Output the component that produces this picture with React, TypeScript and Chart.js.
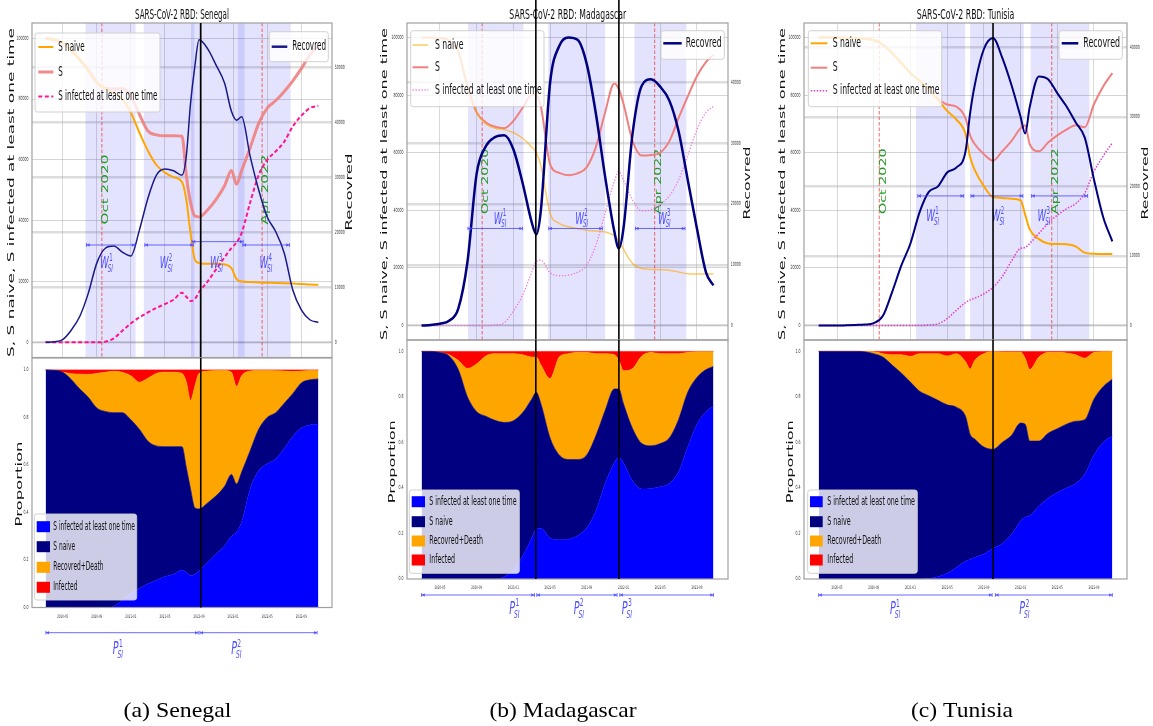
import React, { useEffect, useRef } from "react";
import { Chart, registerables } from "chart.js";
Chart.register(...registerables);

const W = 1153;
const H = 726;
const FONT = '"DejaVu Sans", "Noto Sans", sans-serif';
const SERIF = '"Liberation Serif", "DejaVu Serif", serif';
const SQ = 0.55;

// ---------------- shared axis / label data ----------------
const X_TICKS = [4, 8, 12, 16, 20, 24, 28, 32]; // months since 2020-01
const X_TICK_LABELS = ["2020-05", "2020-09", "2021-01", "2021-05", "2021-09", "2022-01", "2022-05", "2022-09"];
const LEFT_TICKS = [0, 20000, 40000, 60000, 80000, 100000];
const PROP_TICKS = [0, 0.2, 0.4, 0.6, 0.8, 1.0];
const PROP_TICK_LABELS = ["0.0", "0.2", "0.4", "0.6", "0.8", "1.0"];
const MARK_DATES = [8.6, 27.4];
const MARK_LABELS = ["Oct 2020", "Apr 2022"];
const TOP_LEGEND = ["S naive", "S", "S infected at least one time"];
const REC_LABEL = "Recovred";
const AREA_LEGEND = ["S infected at least one time", "S naive", "Recovred+Death", "Infected"];

// ---------------- Senegal ----------------
const SEN_X = [2, 3, 4, 5, 6, 7, 8, 9, 10, 11, 12, 13, 14, 15, 16, 17, 18, 18.5, 19, 19.5, 20, 21, 22, 23, 23.8, 24.4, 25, 26, 27, 28, 29, 30, 31, 32, 33, 34];
const SEN_S_NAIVE = [100000, 99500, 98500, 96000, 93000, 89500, 85500, 83500, 82000, 80000, 75500, 69000, 63000, 58300, 55800, 54300, 52700, 47000, 36000, 27200, 26100, 25800, 25800, 25600, 24400, 20800, 20000, 19800, 19700, 19600, 19500, 19400, 19300, 19200, 19000, 18900];
const SEN_S = [100000, 99500, 98500, 96000, 93000, 89500, 85500, 83500, 83300, 83500, 81000, 75000, 69500, 68200, 67900, 67900, 67800, 55000, 46000, 41500, 41200, 43500, 47000, 51500, 56500, 52000, 56500, 64000, 72000, 77000, 79500, 82500, 86000, 90000, 94500, 97600];
const SEN_S_INF = [0, 0, 0, 0, 0, 0, 0, 200, 1300, 3800, 6200, 8200, 9800, 11300, 12600, 14000, 16300, 15000, 13600, 14200, 16500, 20000, 24000, 28000, 31000, 32800, 36000, 46000, 55000, 60000, 62800, 66000, 71000, 74500, 77000, 77800];
const SEN_REC = [0, 100, 500, 2200, 4700, 8900, 14400, 17100, 17500, 16400, 15700, 20400, 26200, 30400, 31500, 31200, 30400, 33800, 43400, 50100, 55000, 53400, 50400, 47100, 42000, 40400, 41000, 33800, 27700, 22800, 20100, 16200, 9500, 5900, 4100, 3600];
const SEN_BLUE = [0, 0, 0, 0, 0, 0, 0, 0, 0.005, 0.03, 0.06, 0.08, 0.1, 0.115, 0.13, 0.14, 0.158, 0.148, 0.135, 0.14, 0.155, 0.19, 0.225, 0.26, 0.3, 0.318, 0.36, 0.5, 0.575, 0.605, 0.625, 0.67, 0.72, 0.755, 0.768, 0.772];
const SEN_NAVY = [1.0, 0.998, 0.99, 0.96, 0.92, 0.885, 0.84, 0.825, 0.82, 0.82, 0.79, 0.75, 0.7, 0.68, 0.677, 0.677, 0.677, 0.59, 0.5, 0.42, 0.415, 0.44, 0.47, 0.51, 0.56, 0.52, 0.57, 0.66, 0.75, 0.8, 0.82, 0.86, 0.9, 0.945, 0.958, 0.962];
const SEN_ORANGE = [1.0, 0.995, 0.99, 0.984, 0.982, 0.981, 0.985, 0.99, 0.994, 0.99, 0.975, 0.948, 0.965, 0.985, 0.99, 0.99, 0.985, 0.95, 0.87, 0.93, 0.985, 0.995, 0.997, 0.997, 0.99, 0.93, 0.975, 0.995, 0.997, 0.997, 0.996, 0.995, 0.993, 0.995, 0.997, 0.997];
const SEN_RED = [1, 1, 1, 1, 1, 1, 1, 1, 1, 1, 1, 1, 1, 1, 1, 1, 1, 1, 1, 1, 1, 1, 1, 1, 1, 1, 1, 1, 1, 1, 1, 1, 1, 1, 1, 1];
const SEN_RIGHT_TICKS = [0, 10000, 20000, 30000, 40000, 50000];
const SEN_REC_MAX = 55300;
const SEN_SPANS = [[6.67, 12.56], [13.52, 19.45], [19.06, 25.33], [24.56, 30.75]];
const SEN_W_ARROWS = [[6.79, 12.48, 32000], [13.64, 19.33, 32000], [19.18, 25.17, 33100], [25.14, 30.6, 32000]];
const SEN_W_LABELS = [[9.2, 26200], [16.2, 26200], [22.1, 26200], [27.9, 26200]];
const SEN_BLACK = [20.2];
const SEN_P_ARROWS = [[2.03, 19.9], [20.1, 33.85]];
const SEN_P_LABELS = [10.54, 24.44];

// ---------------- Madagascar ----------------
const MAD_X = [2, 3, 4, 5, 6, 7, 8, 9, 10, 11, 12, 13, 14, 14.5, 15, 16, 17, 18, 19, 20, 21, 22, 23, 23.5, 24, 25, 26, 27, 28, 29, 30, 31, 32, 33, 33.8];
const MAD_S_NAIVE = [100000, 100000, 99800, 99000, 95000, 83000, 74000, 70000, 68500, 68000, 67000, 65000, 62000, 60000, 55500, 39000, 35500, 34300, 33600, 33100, 32800, 32500, 31200, 29500, 26500, 21500, 19800, 19500, 19400, 19200, 18600, 18000, 17900, 17900, 17900];
const MAD_S = [100000, 100000, 99800, 99000, 95000, 83000, 74000, 70500, 69000, 68500, 71000, 75500, 80000, 80000, 76000, 56000, 53000, 52200, 52800, 55000, 62000, 74000, 84000, 82000, 77000, 64000, 59000, 59200, 60000, 64000, 72000, 79500, 86500, 91500, 94000];
const MAD_S_INF = [0, 0, 0, 0, 0, 0, 0, 0, 200, 1000, 5000, 10500, 18500, 22300, 22700, 18400, 17300, 17500, 18500, 21000, 28000, 39000, 50000, 53500, 50500, 43500, 39800, 40200, 42000, 45000, 50500, 59000, 68000, 74000, 76100];
const MAD_REC = [0, 100, 300, 800, 2800, 10500, 25000, 29500, 31000, 31300, 29000, 23500, 17000, 15000, 19000, 39900, 46000, 47400, 47000, 43000, 34800, 24500, 15500, 12700, 16000, 31700, 39500, 40500, 39300, 37000, 32000, 24000, 16000, 8700, 6600];
const MAD_BLUE = [0, 0, 0, 0, 0, 0, 0, 0, 0, 0.01, 0.04, 0.1, 0.18, 0.22, 0.222, 0.18, 0.172, 0.175, 0.19, 0.225, 0.3, 0.42, 0.51, 0.535, 0.51, 0.43, 0.395, 0.398, 0.405, 0.42, 0.47, 0.58, 0.68, 0.735, 0.76];
const MAD_NAVY = [1.0, 1.0, 0.995, 0.98, 0.92, 0.8, 0.735, 0.715, 0.697, 0.688, 0.695, 0.73, 0.79, 0.82, 0.77, 0.62, 0.545, 0.525, 0.525, 0.545, 0.63, 0.74, 0.835, 0.835, 0.77, 0.66, 0.595, 0.585, 0.595, 0.62, 0.7, 0.82, 0.885, 0.92, 0.934];
const MAD_ORANGE = [1.0, 0.998, 0.995, 0.985, 0.96, 0.925, 0.945, 0.98, 0.99, 0.99, 0.99, 0.985, 0.975, 0.975, 0.94, 0.88, 0.975, 0.99, 0.995, 0.995, 0.99, 0.99, 0.985, 0.96, 0.915, 0.925, 0.98, 0.995, 0.99, 0.99, 0.99, 0.995, 0.998, 0.998, 0.998];
const MAD_RED = [1, 1, 1, 1, 1, 1, 1, 1, 1, 1, 1, 1, 1, 1, 1, 1, 1, 1, 1, 1, 1, 1, 1, 1, 1, 1, 1, 1, 1, 1, 1, 1, 1, 1, 1];
const MAD_RIGHT_TICKS = [0, 10000, 20000, 30000, 40000];
const MAD_REC_MAX = 47400;
const MAD_SPANS = [[7.06, 13.1], [15.8, 22.0], [25.2, 30.85]];
const MAD_W_ARROWS = [[7.05, 13.0, 33700], [15.85, 21.7, 33700], [25.3, 30.7, 33700]];
const MAD_W_LABELS = [[10.6, 37400], [19.5, 37400], [28.5, 37400]];
const MAD_BLACK = [14.45, 23.5];
const MAD_P_ARROWS = [[2.0, 14.3], [14.55, 23.3], [23.6, 33.8]];
const MAD_P_LABELS = [12.18, 19.19, 24.43];

// ---------------- Tunisia ----------------
const TUN_X = [2, 3, 4, 5, 6, 7, 8, 9, 10, 11, 12, 13, 14, 15, 16, 17, 18, 18.5, 19, 20, 21, 22, 23, 24, 24.5, 25, 26, 27, 28, 29, 30, 31, 32, 33, 34];
const TUN_S_NAIVE = [100000, 100000, 100000, 99900, 99700, 99500, 99000, 97500, 94500, 91200, 87600, 85000, 82000, 78300, 74500, 71500, 66500, 58500, 54000, 48400, 44600, 44300, 44000, 43500, 38500, 33400, 30000, 28500, 28300, 28200, 27500, 25300, 24900, 24800, 24800];
const TUN_S = [100000, 100000, 100000, 99900, 99700, 99500, 99000, 97500, 94500, 91200, 87600, 85000, 82000, 78800, 76700, 76000, 72000, 66000, 63000, 59500, 57200, 60500, 64000, 68500, 69500, 63000, 60500, 63500, 66000, 68000, 69500, 68800, 76800, 83000, 87600];
const TUN_S_INF = [0, 0, 0, 0, 0, 0, 0, 0, 0, 0, 0, 0, 200, 600, 2400, 5300, 8000, 8900, 9500, 11000, 13300, 17000, 22300, 26800, 27100, 28500, 32000, 35500, 38300, 40500, 42300, 46000, 53500, 58800, 63400];
const TUN_REC = [0, 0, 0, 50, 100, 150, 350, 1400, 4800, 8600, 11800, 16300, 19200, 20000, 22000, 22700, 25000, 30500, 34500, 39700, 41300, 38500, 34600, 30000, 27600, 31400, 35800, 35400, 33400, 31500, 29200, 27000, 21000, 15600, 12100];
const TUN_BLUE = [0, 0, 0, 0, 0, 0, 0, 0, 0, 0, 0, 0, 0.002, 0.01, 0.025, 0.051, 0.078, 0.086, 0.095, 0.11, 0.135, 0.155, 0.195, 0.255, 0.272, 0.278, 0.32, 0.355, 0.38, 0.4, 0.42, 0.46, 0.545, 0.6, 0.628];
const TUN_NAVY = [1.0, 1.0, 1.0, 1.0, 1.0, 0.998, 0.99, 0.975, 0.94, 0.905, 0.865, 0.825, 0.805, 0.785, 0.765, 0.755, 0.715, 0.636, 0.615, 0.58, 0.57, 0.6, 0.63, 0.685, 0.68, 0.606, 0.606, 0.64, 0.66, 0.68, 0.693, 0.7, 0.79, 0.845, 0.878];
const TUN_ORANGE = [1.0, 1.0, 1.0, 1.0, 1.0, 1.0, 0.998, 0.99, 0.985, 0.985, 0.978, 0.99, 0.99, 0.99, 0.98, 0.99, 0.955, 0.922, 0.96, 0.99, 0.998, 0.997, 0.997, 0.997, 0.97, 0.92, 0.975, 0.995, 0.995, 0.993, 0.985, 0.97, 0.995, 0.998, 1.0];
const TUN_RED = [1, 1, 1, 1, 1, 1, 1, 1, 1, 1, 1, 1, 1, 1, 1, 1, 1, 1, 1, 1, 1, 1, 1, 1, 1, 1, 1, 1, 1, 1, 1, 1, 1, 1, 1];
const TUN_RIGHT_TICKS = [0, 10000, 20000, 30000, 40000];
const TUN_REC_MAX = 41400;
const TUN_SPANS = [[12.6, 17.96], [18.5, 24.35], [25.1, 31.5]];
const TUN_W_ARROWS = [[12.8, 17.8, 45000], [18.6, 24.25, 45000], [25.2, 31.3, 45000]];
const TUN_W_LABELS = [[14.48, 38300], [21.6, 38300], [26.6, 38300]];
const TUN_BLACK = [21.0];
const TUN_P_ARROWS = [[2.0, 20.9], [21.26, 34.0]];
const TUN_P_LABELS = [10.38, 24.48];

// ---------------- panel assembly (layout + styles) ----------------
const PANELS: any[] = [
  {
    title: "SARS-CoV-2 RBD: Senegal", caption: "(a) Senegal",
    x: SEN_X, sNaive: SEN_S_NAIVE, s: SEN_S, sInf: SEN_S_INF, rec: SEN_REC,
    blue: SEN_BLUE, navy: SEN_NAVY, orange: SEN_ORANGE, red: SEN_RED,
    recMax: SEN_REC_MAX, rightTicks: SEN_RIGHT_TICKS, spans: SEN_SPANS, wArrows: SEN_W_ARROWS,
    wLabels: SEN_W_LABELS, black: SEN_BLACK, pArrows: SEN_P_ARROWS, pLabels: SEN_P_LABELS,
    xMin: 0.4, xMax: 35.6,
    sty: {
      sNaive: { color: "#FFA500", width: 2 },
      s: { color: "rgba(240,128,128,0.9)", width: 3 },
      sInf: { color: "#FF1493", width: 2, dash: [4, 2.5] },
      rec: { color: "#1a1a8a", width: 1.5 },
    },
    lay: {
      top: { l: 32, t: 23, r: 332, b: 357.5 }, bot: { l: 32, t: 358, r: 332, b: 607.5 },
      title: { x: 182, y: 18.5, w: 94 },
      yLabel: { x: 11.7, y: 192.5, len: 329 }, rLabel: { x: 349.3, y: 192, len: 77 }, pLabel: { x: 20, y: 484, len: 85 },
      legL: { box: { x: 35, y: 33, w: 125, h: 79 }, ys: [47, 72, 96.5], lineX: [38.3, 53.3], textX: 58.3, fitW: 99 },
      legR: { box: { x: 269.3, y: 31.7, w: 59, h: 30 }, y: 46.7, lineX: [271.7, 287.3], textX: 292.3, fitW: 33.7 },
      legB: { box: { x: 34.3, y: 514, w: 102.4, h: 86 }, ys: [526.7, 546.7, 567.3, 587.3], patchX: 36.7, patchW: 13.3, textX: 53.3, fitW: 81.7 },
      markLen: 70, pArrowDy: 25.2, pLabelDy: 40.5, xLabDy: 9, blackFromTop: false,
      cap: { x: 177.5, w: 108 },
    },
  },
  {
    title: "SARS-CoV-2 RBD: Madagascar", caption: "(b) Madagascar",
    x: MAD_X, sNaive: MAD_S_NAIVE, s: MAD_S, sInf: MAD_S_INF, rec: MAD_REC,
    blue: MAD_BLUE, navy: MAD_NAVY, orange: MAD_ORANGE, red: MAD_RED,
    recMax: MAD_REC_MAX, rightTicks: MAD_RIGHT_TICKS, spans: MAD_SPANS, wArrows: MAD_W_ARROWS,
    wLabels: MAD_W_LABELS, black: MAD_BLACK, pArrows: MAD_P_ARROWS, pLabels: MAD_P_LABELS,
    xMin: 0.41, xMax: 35.39,
    sty: {
      sNaive: { color: "rgba(255,165,0,0.6)", width: 1.5 },
      s: { color: "#F08080", width: 2 },
      sInf: { color: "rgba(238,100,220,0.85)", width: 1.3, dash: [1.3, 1.7] },
      rec: { color: "#000080", width: 2.5 },
    },
    lay: {
      top: { l: 407, t: 23, r: 728, b: 340 }, bot: { l: 407, t: 340, r: 728, b: 579 },
      title: { x: 567.7, y: 18.5, w: 116.7 },
      yLabel: { x: 385, y: 184, len: 312 }, rLabel: { x: 747.3, y: 183, len: 73 }, pLabel: { x: 392.7, y: 461.7, len: 83 },
      legL: { box: { x: 410.7, y: 30.7, w: 133.3, h: 76 }, ys: [45, 67.3, 90], lineX: [412.5, 428.3], textX: 435, fitW: 106.7 },
      legR: { box: { x: 661, y: 30.7, w: 63.3, h: 28.6 }, y: 43.3, lineX: [663.3, 681.7], textX: 685.7, fitW: 36 },
      legB: { box: { x: 409.3, y: 490, w: 110, h: 83.3 }, ys: [501.7, 521.7, 541, 560], patchX: 411.7, patchW: 13.3, textX: 429.3, fitW: 87.3 },
      markLen: 65.5, pArrowDy: 16, pLabelDy: 28.5, xLabDy: 9, blackFromTop: true,
      cap: { x: 563, w: 147 },
    },
  },
  {
    title: "SARS-CoV-2 RBD: Tunisia", caption: "(c) Tunisia",
    x: TUN_X, sNaive: TUN_S_NAIVE, s: TUN_S, sInf: TUN_S_INF, rec: TUN_REC,
    blue: TUN_BLUE, navy: TUN_NAVY, orange: TUN_ORANGE, red: TUN_RED,
    recMax: TUN_REC_MAX, rightTicks: TUN_RIGHT_TICKS, spans: TUN_SPANS, wArrows: TUN_W_ARROWS,
    wLabels: TUN_W_LABELS, black: TUN_BLACK, pArrows: TUN_P_ARROWS, pLabels: TUN_P_LABELS,
    xMin: 0.4, xMax: 35.6,
    sty: {
      sNaive: { color: "#FFA500", width: 2 },
      s: { color: "#F08080", width: 2 },
      sInf: { color: "#E040C8", width: 1.5, dash: [1.5, 1.5] },
      rec: { color: "#000080", width: 2 },
    },
    lay: {
      top: { l: 804, t: 23, r: 1127, b: 340 }, bot: { l: 804, t: 340, r: 1127, b: 579 },
      title: { x: 965.5, y: 18.5, w: 97.7 },
      yLabel: { x: 782.7, y: 184, len: 312 }, rLabel: { x: 1145.7, y: 183, len: 73 }, pLabel: { x: 790.7, y: 461.7, len: 83 },
      legL: { box: { x: 808.3, y: 30.7, w: 133.4, h: 76 }, ys: [43.3, 67.7, 90.7], lineX: [810.7, 827.3], textX: 832.7, fitW: 106.7 },
      legR: { box: { x: 1059, y: 30.7, w: 63.3, h: 28.6 }, y: 43.3, lineX: [1061.7, 1078.3], textX: 1083.3, fitW: 36.7 },
      legB: { box: { x: 807.7, y: 490, w: 109.6, h: 83.3 }, ys: [501.7, 521.7, 541, 560], patchX: 810, patchW: 12.7, textX: 827.3, fitW: 87.7 },
      markLen: 65.7, pArrowDy: 16, pLabelDy: 29, xLabDy: 9, blackFromTop: false,
      cap: { x: 962, w: 102 },
    },
  },
];

// ---------------- drawing helpers ----------------
function drawText(ctx: CanvasRenderingContext2D, s: string, x: number, y: number, o: any) {
  const size = o.size;
  ctx.save();
  ctx.font = `${o.italic ? "italic " : ""}${size}px ${o.family || FONT}`;
  ctx.fillStyle = o.color || "#000";
  ctx.textAlign = o.align || "left";
  ctx.textBaseline = o.baseline || "alphabetic";
  ctx.translate(x, y);
  const w = ctx.measureText(s).width;
  if (o.rot) {
    ctx.scale(o.sq ?? SQ, 1);
    ctx.rotate(-Math.PI / 2);
    if (o.fit) ctx.scale(o.fit / w, 1);
  } else {
    ctx.scale(o.fit ? o.fit / w : o.sx ?? SQ, 1);
  }
  ctx.fillText(s, 0, 0);
  ctx.restore();
}

function mathLabel(ctx: CanvasRenderingContext2D, main: string, sup: string, sub: string, cx: number, cy: number, size: number, color: string) {
  ctx.save();
  ctx.fillStyle = color;
  ctx.textBaseline = "alphabetic";
  ctx.textAlign = "left";
  const small = size * 0.62;
  const fMain = `italic ${size}px ${FONT}`;
  const fSup = `${small}px ${FONT}`;
  const fSub = `italic ${small}px ${FONT}`;
  ctx.font = fMain;
  const wm = ctx.measureText(main).width * SQ;
  ctx.font = fSup;
  const wsup = ctx.measureText(sup).width * SQ;
  ctx.font = fSub;
  const wsub = ctx.measureText(sub).width * SQ;
  const total = wm + Math.max(wsup, wsub);
  const x0 = cx - total / 2;
  const base = cy + size * 0.365;
  const put = (s: string, x: number, y: number, f: string) => {
    ctx.save();
    ctx.font = f;
    ctx.translate(x, y);
    ctx.scale(SQ, 1);
    ctx.fillText(s, 0, 0);
    ctx.restore();
  };
  put(main, x0, base, fMain);
  put(sup, x0 + wm + size * 0.02, base - size * 0.45, fSup);
  put(sub, x0 + wm - size * 0.06, base + size * 0.22, fSub);
  ctx.restore();
}

function dblArrow(ctx: CanvasRenderingContext2D, x1: number, x2: number, y: number, color: string) {
  ctx.save();
  ctx.strokeStyle = color;
  ctx.fillStyle = color;
  ctx.lineWidth = 1;
  ctx.beginPath();
  ctx.moveTo(x1, y);
  ctx.lineTo(x2, y);
  ctx.stroke();
  const hl = 3.2, hw = 1.8;
  ctx.beginPath();
  ctx.moveTo(x1, y); ctx.lineTo(x1 + hl, y - hw); ctx.lineTo(x1 + hl, y + hw); ctx.closePath();
  ctx.moveTo(x2, y); ctx.lineTo(x2 - hl, y - hw); ctx.lineTo(x2 - hl, y + hw); ctx.closePath();
  ctx.fill();
  ctx.beginPath();
  ctx.moveTo(x1, y - 1.8); ctx.lineTo(x1, y + 1.8);
  ctx.moveTo(x2, y - 1.8); ctx.lineTo(x2, y + 1.8);
  ctx.stroke();
  ctx.restore();
}

function legendFrame(ctx: CanvasRenderingContext2D, b: any) {
  const r = 2.5;
  ctx.save();
  ctx.beginPath();
  ctx.moveTo(b.x + r, b.y);
  ctx.arcTo(b.x + b.w, b.y, b.x + b.w, b.y + b.h, r);
  ctx.arcTo(b.x + b.w, b.y + b.h, b.x, b.y + b.h, r);
  ctx.arcTo(b.x, b.y + b.h, b.x, b.y, r);
  ctx.arcTo(b.x, b.y, b.x + b.w, b.y, r);
  ctx.closePath();
  ctx.fillStyle = "rgba(255,255,255,0.8)";
  ctx.fill();
  ctx.strokeStyle = "rgba(204,204,204,0.9)";
  ctx.lineWidth = 1;
  ctx.stroke();
  ctx.restore();
}

function frame(ctx: CanvasRenderingContext2D, a: any) {
  ctx.save();
  ctx.strokeStyle = "#a0a0a0";
  ctx.lineWidth = 1.2;
  ctx.strokeRect(a.left, a.top, a.right - a.left, a.bottom - a.top);
  ctx.restore();
}

function sampleLine(ctx: CanvasRenderingContext2D, x1: number, x2: number, y: number, st: any) {
  ctx.save();
  ctx.strokeStyle = st.color;
  ctx.lineWidth = st.width;
  ctx.setLineDash(st.dash || []);
  ctx.beginPath();
  ctx.moveTo(x1, y);
  ctx.lineTo(x2, y);
  ctx.stroke();
  ctx.restore();
}

const LABEL_BLUE = "#4f4fff";
const ARROW_BLUE = "rgba(70,70,255,0.8)";

// ---------------- plugins ----------------
function topPlugin(p: any) {
  return {
    id: "topDeco",
    beforeDatasetsDraw(chart: any) {
      const { ctx, chartArea: a, scales } = chart;
      const xs = scales.x, ys = scales.y;
      ctx.save();
      ctx.beginPath();
      ctx.rect(a.left, a.top, a.right - a.left, a.bottom - a.top);
      ctx.clip();
      ctx.fillStyle = "rgba(0,0,235,0.11)";
      for (const [s, e] of p.spans) {
        const x1 = xs.getPixelForValue(s), x2 = xs.getPixelForValue(e);
        ctx.fillRect(x1, a.top, x2 - x1, a.bottom - a.top);
      }
      ctx.strokeStyle = "rgba(235,40,40,0.7)";
      ctx.lineWidth = 1;
      ctx.setLineDash([3.5, 2]);
      for (const m of MARK_DATES) {
        const px = xs.getPixelForValue(m);
        ctx.beginPath();
        ctx.moveTo(px, a.top);
        ctx.lineTo(px, a.bottom);
        ctx.stroke();
      }
      ctx.setLineDash([]);
      MARK_DATES.forEach((m, i) => {
        drawText(ctx, MARK_LABELS[i], xs.getPixelForValue(m), ys.getPixelForValue(38700), {
          size: 15, rot: true, fit: p.lay.markLen, align: "left", baseline: "top", color: "#229922",
        });
      });
      ctx.restore();
    },
    afterDatasetsDraw(chart: any) {
      const { ctx, scales } = chart;
      const xs = scales.x, ys = scales.y;
      for (const [s, e, v] of p.wArrows) dblArrow(ctx, xs.getPixelForValue(s), xs.getPixelForValue(e), ys.getPixelForValue(v), ARROW_BLUE);
      p.wLabels.forEach(([m, v]: number[], i: number) => {
        mathLabel(ctx, "W", String(i + 1), "SI", xs.getPixelForValue(m), ys.getPixelForValue(v), 16, LABEL_BLUE);
      });
      const L = p.lay.legL;
      legendFrame(ctx, L.box);
      ctx.save();
      ctx.font = `13.5px ${FONT}`;
      const sx = L.fitW / ctx.measureText(TOP_LEGEND[2]).width;
      ctx.restore();
      const sts = [p.sty.sNaive, p.sty.s, p.sty.sInf];
      TOP_LEGEND.forEach((lab, i) => {
        sampleLine(ctx, L.lineX[0], L.lineX[1], L.ys[i], sts[i]);
        drawText(ctx, lab, L.textX, L.ys[i], { size: 13.5, baseline: "middle", sx, color: "#111" });
      });
      const R = p.lay.legR;
      legendFrame(ctx, R.box);
      sampleLine(ctx, R.lineX[0], R.lineX[1], R.y, { color: p.sty.rec.color, width: 2.5 });
      drawText(ctx, REC_LABEL, R.textX, R.y, { size: 13.5, baseline: "middle", fit: R.fitW, color: "#111" });
    },
    afterDraw(chart: any) {
      const { ctx, chartArea: a, scales } = chart;
      const xs = scales.x, ys = scales.y, y1 = scales.y1;
      frame(ctx, a);
      LEFT_TICKS.forEach((v) => drawText(ctx, String(v), a.left - 3.5, ys.getPixelForValue(v), { size: 5.7, align: "right", baseline: "middle", color: "#333" }));
      p.rightTicks.forEach((v: number) => drawText(ctx, String(v), a.right + 2.8, y1.getPixelForValue(v), { size: 5.7, align: "left", baseline: "middle", color: "#333" }));
      const T = p.lay.title;
      drawText(ctx, p.title, T.x, T.y, { size: 14, align: "center", fit: T.w, color: "#111" });
      const YL = p.lay.yLabel;
      drawText(ctx, "S, S naive, S infected at least one time", YL.x, YL.y, { size: 17, rot: true, fit: YL.len, align: "center", baseline: "middle", color: "#111" });
      const RL = p.lay.rLabel;
      drawText(ctx, REC_LABEL, RL.x, RL.y, { size: 16, rot: true, fit: RL.len, align: "center", baseline: "middle", color: "#111" });
      ctx.save();
      ctx.strokeStyle = "#000";
      ctx.lineWidth = 1.6;
      for (const m of p.black) {
        const px = xs.getPixelForValue(m);
        ctx.beginPath();
        ctx.moveTo(px, p.lay.blackFromTop ? 0 : a.top);
        ctx.lineTo(px, a.bottom);
        ctx.stroke();
      }
      ctx.restore();
    },
  };
}

function bottomPlugin(p: any) {
  return {
    id: "botDeco",
    afterDatasetsDraw(chart: any) {
      const { ctx } = chart;
      const L = p.lay.legB;
      legendFrame(ctx, L.box);
      ctx.save();
      ctx.font = `12px ${FONT}`;
      const sx = L.fitW / ctx.measureText(AREA_LEGEND[0]).width;
      ctx.restore();
      const cols = ["#0000ff", "#000080", "#ffa500", "#ff0000"];
      AREA_LEGEND.forEach((lab, i) => {
        ctx.save();
        ctx.fillStyle = cols[i];
        ctx.fillRect(L.patchX, L.ys[i] - 5.5, L.patchW, 11);
        ctx.restore();
        drawText(ctx, lab, L.textX, L.ys[i], { size: 12, baseline: "middle", sx, color: "#111" });
      });
    },
    afterDraw(chart: any) {
      const { ctx, chartArea: a, scales } = chart;
      const xs = scales.x, ys = scales.y;
      frame(ctx, a);
      PROP_TICKS.forEach((v, i) => drawText(ctx, PROP_TICK_LABELS[i], a.left - 3.5, ys.getPixelForValue(v), { size: 5.7, align: "right", baseline: "middle", color: "#333" }));
      X_TICKS.forEach((v, i) => drawText(ctx, X_TICK_LABELS[i], xs.getPixelForValue(v), a.bottom + p.lay.xLabDy, { size: 4.8, align: "center", baseline: "middle", color: "#333" }));
      const PL = p.lay.pLabel;
      drawText(ctx, "Proportion", PL.x, PL.y, { size: 16, rot: true, fit: PL.len, align: "center", baseline: "middle", color: "#111" });
      ctx.save();
      ctx.strokeStyle = "#000";
      ctx.lineWidth = 1.6;
      for (const m of p.black) {
        const px = xs.getPixelForValue(m);
        ctx.beginPath();
        ctx.moveTo(px, a.top);
        ctx.lineTo(px, a.bottom);
        ctx.stroke();
      }
      ctx.restore();
      for (const [s, e] of p.pArrows) dblArrow(ctx, xs.getPixelForValue(s), xs.getPixelForValue(e), a.bottom + p.lay.pArrowDy, ARROW_BLUE);
      p.pLabels.forEach((m: number, i: number) => mathLabel(ctx, "P", String(i + 1), "SI", xs.getPixelForValue(m), a.bottom + p.lay.pLabelDy, 17.5, LABEL_BLUE));
      drawText(ctx, p.caption, p.lay.cap.x, 716.7, { size: 21, family: SERIF, align: "center", fit: p.lay.cap.w, color: "#000" });
    },
  };
}

// ---------------- chart configs ----------------
function pts(x: number[], v: number[]) {
  return v.map((y, i) => ({ x: x[i], y }));
}

function lineDs(label: string, x: number[], v: number[], st: any, axis: string) {
  return {
    label, data: pts(x, v), yAxisID: axis, borderColor: st.color, borderWidth: st.width,
    borderDash: st.dash || [], pointRadius: 0, fill: false, cubicInterpolationMode: "monotone",
  };
}

function areaDs(label: string, x: number[], v: number[], color: string, fill: any) {
  return {
    label, data: pts(x, v), borderColor: color, borderWidth: 0.6, backgroundColor: color,
    pointRadius: 0, fill, cubicInterpolationMode: "monotone",
  };
}

function fixedTicks(vals: number[]) {
  return (s: any) => {
    s.ticks = vals.map((v) => ({ value: v }));
  };
}

function baseOptions(box: any) {
  return {
    animation: false, responsive: false, maintainAspectRatio: false, devicePixelRatio: 1, events: [],
    layout: { padding: { left: box.l, top: box.t, right: W - box.r, bottom: H - box.b } },
    plugins: { legend: { display: false }, tooltip: { enabled: false }, title: { display: false } },
  };
}

function topConfig(p: any): any {
  return {
    type: "line",
    data: {
      datasets: [
        lineDs(REC_LABEL, p.x, p.rec, p.sty.rec, "y1"),
        lineDs(TOP_LEGEND[2], p.x, p.sInf, p.sty.sInf, "y"),
        lineDs(TOP_LEGEND[0], p.x, p.sNaive, p.sty.sNaive, "y"),
        lineDs(TOP_LEGEND[1], p.x, p.s, p.sty.s, "y"),
      ],
    },
    options: {
      ...baseOptions(p.lay.top),
      scales: {
        x: {
          type: "linear", min: p.xMin, max: p.xMax, afterBuildTicks: fixedTicks(X_TICKS),
          afterFit: (s: any) => { s.height = 0; }, ticks: { display: false },
          grid: { color: "rgba(150,150,150,0.35)", lineWidth: 1, drawTicks: false }, border: { display: false },
        },
        y: {
          type: "linear", position: "left", min: -5000, max: 105000, afterBuildTicks: fixedTicks(LEFT_TICKS),
          afterFit: (s: any) => { s.width = 0; }, ticks: { display: false },
          grid: { color: "rgba(150,150,150,0.4)", lineWidth: 1, drawTicks: false }, border: { display: false },
        },
        y1: {
          type: "linear", position: "right", min: -0.05 * p.recMax, max: 1.05 * p.recMax, afterBuildTicks: fixedTicks(p.rightTicks),
          afterFit: (s: any) => { s.width = 0; }, ticks: { display: false },
          grid: { color: "rgba(170,170,170,0.4)", lineWidth: 2.5, drawTicks: false }, border: { display: false },
        },
      },
    },
    plugins: [topPlugin(p)],
  };
}

function bottomConfig(p: any): any {
  return {
    type: "line",
    data: {
      datasets: [
        areaDs(AREA_LEGEND[0], p.x, p.blue, "#0000ff", "origin"),
        areaDs(AREA_LEGEND[1], p.x, p.navy, "#000080", "-1"),
        areaDs(AREA_LEGEND[2], p.x, p.orange, "#ffa500", "-1"),
        areaDs(AREA_LEGEND[3], p.x, p.red, "#ff0000", "-1"),
      ],
    },
    options: {
      ...baseOptions(p.lay.bot),
      scales: {
        x: {
          type: "linear", min: p.xMin, max: p.xMax, afterBuildTicks: fixedTicks(X_TICKS),
          afterFit: (s: any) => { s.height = 0; }, ticks: { display: false },
          grid: { display: false, drawTicks: false }, border: { display: false },
        },
        y: {
          type: "linear", position: "left", min: 0, max: 1.05, afterBuildTicks: fixedTicks(PROP_TICKS),
          afterFit: (s: any) => { s.width = 0; }, ticks: { display: false },
          grid: { display: false, drawTicks: false }, border: { display: false },
        },
      },
    },
    plugins: [bottomPlugin(p)],
  };
}

export default function App() {
  const refs = useRef<(HTMLCanvasElement | null)[]>([]);
  useEffect(() => {
    const charts: any[] = [];
    PANELS.forEach((p, i) => {
      const c1 = refs.current[2 * i];
      const c2 = refs.current[2 * i + 1];
      if (c1) charts.push(new Chart(c1, topConfig(p)));
      if (c2) charts.push(new Chart(c2, bottomConfig(p)));
    });
    return () => charts.forEach((c) => c.destroy());
  }, []);
  return (
    <div style={{ position: "fixed", left: 0, top: 0, width: W, height: H, background: "#fff", overflow: "hidden" }}>
      {[0, 1, 2, 3, 4, 5].map((i) => (
        <canvas
          key={i}
          ref={(el) => { refs.current[i] = el; }}
          width={W}
          height={H}
          style={{ position: "absolute", left: 0, top: 0, width: W, height: H }}
        />
      ))}
    </div>
  );
}
